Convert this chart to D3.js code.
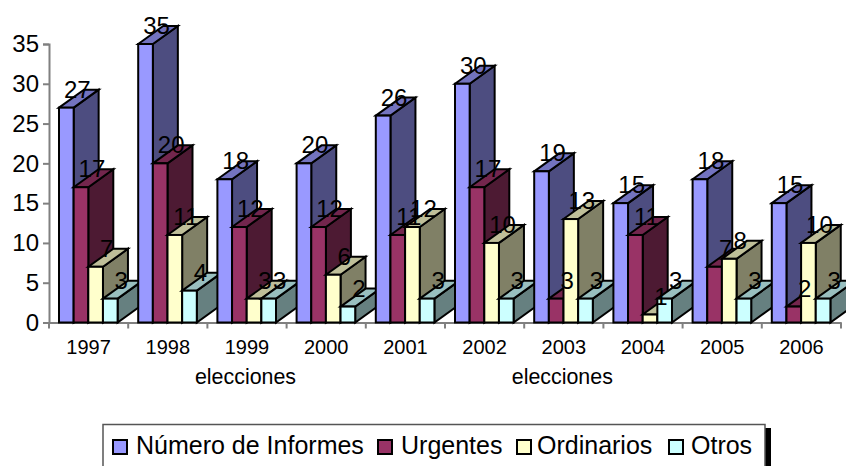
<!DOCTYPE html>
<html>
<head>
<meta charset="utf-8">
<script src="https://cdn.jsdelivr.net/npm/d3@7"></script>
<style>
html, body { margin: 0; padding: 0; background: #fff; }
svg { display: block; }
text { font-family: "Liberation Sans", Arial, sans-serif; fill: #000; }
</style>
</head>
<body>
<svg id="chart" width="846" height="466"></svg>
<script>
var years = ['1997', '1998', '1999', '2000', '2001', '2002', '2003', '2004', '2005', '2006'];
var seriesNames = ['Número de Informes', 'Urgentes', 'Ordinarios', 'Otros'];
var informes = [27, 35, 18, 20, 26, 30, 19, 15, 18, 15];
var urgentes = [17, 20, 12, 12, 11, 17, 3, 11, 7, 2];
var ordinarios = [7, 11, 3, 6, 12, 10, 13, 1, 8, 10];
var otros = [3, 4, 3, 2, 3, 3, 3, 3, 3, 3];
var seriesColors = ['#9999ff', '#993366', '#ffffcc', '#ccffff'];
var yTicks = [0, 5, 10, 15, 20, 25, 30, 35];
var electionYears = ['1999', '2003'];

var seriesValues = [informes, urgentes, ordinarios, otros];

var svg = d3.select('#chart');

var x = d3.scaleBand().domain(years).range([49, 841]);
var inner = d3.scaleBand().domain(d3.range(seriesNames.length)).range([10, 68.6]);
var y = d3.scaleLinear().domain([0, 35]).range([322.5, 44]);

// depth of the fake 3d box
var depthX = 25;
var depthY = 18;

function shade(color, k) {
	var c = d3.rgb(color);
	return d3.rgb(c.r * k, c.g * k, c.b * k).formatHex();
}

// axes go under the bars
var yAxis = svg.append('g')
	.attr('transform', 'translate(49,0)')
	.call(d3.axisLeft(y).tickValues(yTicks).tickSize(6).tickPadding(4).tickFormat(d3.format('d')));
var xAxis = svg.append('g')
	.attr('transform', 'translate(0,322.5)')
	.call(d3.axisBottom(x).tickSize(0).tickFormat(''));

xAxis.selectAll('.xtick')
	.data(d3.range(years.length + 1))
	.enter()
	.append('line')
	.attr('x1', function(d) { return 49 + d * x.step(); })
	.attr('x2', function(d) { return 49 + d * x.step(); })
	.attr('y1', 0)
	.attr('y2', 6);

[yAxis, xAxis].forEach(function(a) {
	a.selectAll('path, line').attr('stroke', '#808080').attr('stroke-width', 2);
});
yAxis.selectAll('text').style('font-size', '24px').attr('fill', '#000');

// bars, earlier ones first so the later ones paint over
var bars = [];
years.forEach(function(year, i) {
	seriesValues.forEach(function(values, s) {
		bars.push({ year: year, s: s, value: values[i] });
	});
});

var barGroup = svg.append('g')
	.attr('stroke', '#000')
	.attr('stroke-width', 2)
	.attr('stroke-linejoin', 'miter');

var bar = barGroup.selectAll('g')
	.data(bars)
	.enter()
	.append('g');

function left(d) { return x(d.year) + inner(d.s); }
function right(d) { return left(d) + inner.bandwidth(); }

bar.append('polygon')
	.attr('fill', function(d) { return shade(seriesColors[d.s], 0.5); })
	.attr('points', function(d) {
		return [[right(d), y(0)], [right(d), y(d.value)],
			[right(d) + depthX, y(d.value) - depthY], [right(d) + depthX, y(0) - depthY]].join(' ');
	});

bar.append('polygon')
	.attr('fill', function(d) { return shade(seriesColors[d.s], 0.75); })
	.attr('points', function(d) {
		return [[left(d), y(d.value)], [left(d) + depthX, y(d.value) - depthY],
			[right(d) + depthX, y(d.value) - depthY], [right(d), y(d.value)]].join(' ');
	});

bar.append('rect')
	.attr('fill', function(d) { return seriesColors[d.s]; })
	.attr('x', left)
	.attr('y', function(d) { return y(d.value); })
	.attr('width', inner.bandwidth())
	.attr('height', function(d) { return y(0) - y(d.value); });

// value labels sit on top of everything
svg.append('g').selectAll('text')
	.data(bars)
	.enter()
	.append('text')
	.attr('text-anchor', 'middle')
	.style('font-size', '24px')
	.attr('x', function(d) { return left(d) + inner.bandwidth() / 2 + 11; })
	.attr('y', function(d) { return y(d.value) - 10; })
	.text(function(d) { return d.value; });

// category labels
svg.append('g').selectAll('text')
	.data(years)
	.enter()
	.append('text')
	.attr('text-anchor', 'middle')
	.style('font-size', '20px')
	.attr('x', function(d) { return x(d) + x.bandwidth() / 2; })
	.attr('y', 354)
	.text(function(d) { return d; });

svg.append('g').selectAll('text')
	.data(electionYears)
	.enter()
	.append('text')
	.attr('text-anchor', 'middle')
	.style('font-size', '21.4px')
	.attr('x', function(d) { return x(d) + x.bandwidth() / 2 - 1.5; })
	.attr('y', 384)
	.text('elecciones');

// legend box runs off the bottom of the picture
svg.append('rect').attr('x', 765).attr('y', 428).attr('width', 6).attr('height', 40).attr('fill', '#000');
svg.append('rect')
	.attr('x', 103).attr('y', 424.5)
	.attr('width', 662).attr('height', 60)
	.attr('fill', '#fff')
	.attr('stroke', '#555')
	.attr('stroke-width', 1.5);

var swatchX = [113, 378, 517, 669];
var labelX = [136, 401, 537, 691];

var legend = svg.append('g').selectAll('g')
	.data(seriesNames)
	.enter()
	.append('g');

legend.append('rect')
	.attr('x', function(d, i) { return swatchX[i]; })
	.attr('y', 440)
	.attr('width', 14)
	.attr('height', 14)
	.attr('fill', function(d, i) { return seriesColors[i]; })
	.attr('stroke', '#000')
	.attr('stroke-width', 2);

legend.append('text')
	.attr('x', function(d, i) { return labelX[i]; })
	.attr('y', 453.5)
	.style('font-size', '25px')
	.text(function(d) { return d; });
</script>
</body>
</html>
